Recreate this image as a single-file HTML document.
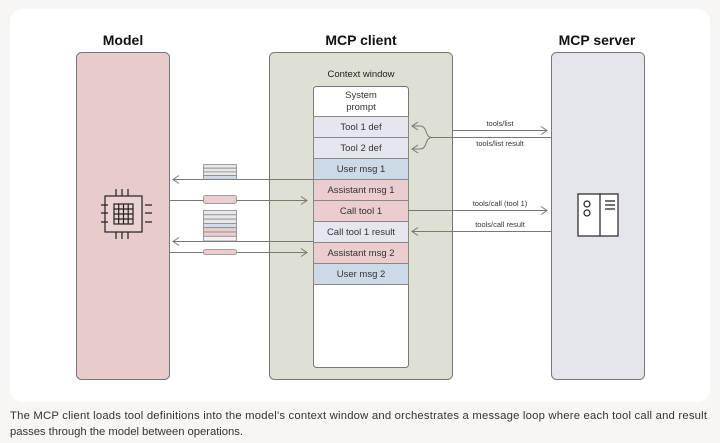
<!DOCTYPE html>
<html><head><meta charset="utf-8"><style>
html,body{margin:0;padding:0;background:#f7f6f2;}
svg{display:block;font-family:"Liberation Sans",sans-serif;}
</style></head><body>
<svg width="720" height="443" viewBox="0 0 720 443" xmlns="http://www.w3.org/2000/svg">
<defs>
<marker id="a" markerWidth="8" markerHeight="10" refX="7" refY="5" orient="auto" markerUnits="userSpaceOnUse">
<path d="M1,1 L7,5 L1,9" fill="none" stroke="#777" stroke-width="1"/></marker>
</defs>
<rect x="10" y="9" width="700" height="393" rx="12" fill="#fff"/>
<g font-weight="bold" font-size="14" fill="#111" text-anchor="middle">
<text x="123" y="45">Model</text><text x="361" y="45">MCP client</text><text x="597" y="45">MCP server</text></g>
<rect x="76.5" y="52.5" width="93" height="327" rx="5" fill="#e8cbcb" stroke="#777"/>
<rect x="269.5" y="52.5" width="183" height="327" rx="5" fill="#dde0d2" stroke="#777"/>
<rect x="551.5" y="52.5" width="93" height="327" rx="5" fill="#e5e5ec" stroke="#777"/>
<text x="361" y="77" font-size="9.5" text-anchor="middle" fill="#222">Context window</text>
<rect x="313.5" y="86.5" width="95" height="281" rx="3" fill="#fff" stroke="#777"/>
<g stroke="#888" stroke-width="1">
<rect x="313.5" y="116.5" width="95" height="21" fill="#e6e6ee"/>
<rect x="313.5" y="137.5" width="95" height="21" fill="#e6e6ee"/>
<rect x="313.5" y="158.5" width="95" height="21" fill="#ccd9e6"/>
<rect x="313.5" y="179.5" width="95" height="21" fill="#ebcdcd"/>
<rect x="313.5" y="200.5" width="95" height="21" fill="#ebcdcd"/>
<rect x="313.5" y="221.5" width="95" height="21" fill="#e6e6ee"/>
<rect x="313.5" y="242.5" width="95" height="21" fill="#ebcdcd"/>
<rect x="313.5" y="263.5" width="95" height="21" fill="#ccd9e6"/>
</g>
<g font-size="9.5" fill="#333" text-anchor="middle">
<text x="361" y="98">System</text><text x="361" y="110">prompt</text>
<text x="361" y="130">Tool 1 def</text><text x="361" y="151">Tool 2 def</text>
<text x="361" y="172">User msg 1</text><text x="361" y="193">Assistant msg 1</text>
<text x="361" y="214">Call tool 1</text><text x="361" y="235">Call tool 1 result</text>
<text x="361" y="256">Assistant msg 2</text><text x="361" y="277">User msg 2</text>
</g>
<g stroke="#777" stroke-width="1" fill="none">
<line x1="313" y1="179.5" x2="173" y2="179.5" marker-end="url(#a)"/>
<line x1="170" y1="200.5" x2="307" y2="200.5" marker-end="url(#a)"/>
<line x1="313" y1="241.5" x2="173" y2="241.5" marker-end="url(#a)"/>
<line x1="170" y1="252.5" x2="307" y2="252.5" marker-end="url(#a)"/>
<line x1="453" y1="130.5" x2="547" y2="130.5" marker-end="url(#a)"/>
<line x1="432" y1="137.5" x2="551" y2="137.5"/>
<path d="M432,137.5 C424,137 428,126 420,126 L412,126" marker-end="url(#a)"/>
<path d="M432,137.5 C424,138 428,149 420,149 L412,149" marker-end="url(#a)"/>
<line x1="408" y1="210.5" x2="547" y2="210.5" marker-end="url(#a)"/>
<line x1="551" y1="231.5" x2="412" y2="231.5" marker-end="url(#a)"/>
</g>
<g font-size="7.5" fill="#333" text-anchor="middle">
<text x="500" y="126">tools/list</text><text x="500" y="146">tools/list result</text>
<text x="500" y="206">tools/call (tool 1)</text><text x="500" y="227">tools/call result</text>
</g>
<g stroke="#888" stroke-width="0.8">
<rect x="203.5" y="164.5" width="33" height="3.7" fill="#e8e8ec"/>
<rect x="203.5" y="168.2" width="33" height="3.7" fill="#e8e8ec"/>
<rect x="203.5" y="171.9" width="33" height="3.7" fill="#e8e8ec"/>
<rect x="203.5" y="175.6" width="33" height="3.7" fill="#d0dcea"/>
<rect x="203.5" y="195.5" width="33" height="8" rx="2" fill="#ebcdd0"/>
<rect x="203.5" y="210.5" width="33" height="4.3" fill="#e8e8ec"/>
<rect x="203.5" y="214.8" width="33" height="4.3" fill="#e8e8ec"/>
<rect x="203.5" y="219.1" width="33" height="4.3" fill="#e8e8ec"/>
<rect x="203.5" y="223.4" width="33" height="4.3" fill="#d0dcea"/>
<rect x="203.5" y="227.7" width="33" height="4.3" fill="#ebcdd0"/>
<rect x="203.5" y="232" width="33" height="4.3" fill="#ebcdd0"/>
<rect x="203.5" y="236.3" width="33" height="4.7" fill="#f2f2f4"/>
<rect x="203.5" y="249.5" width="33" height="5" rx="2" fill="#ebcdd0"/>
</g>
<g stroke="#222" stroke-width="1.2" fill="none">
<rect x="105" y="196" width="37" height="36" fill="#ecd2d2"/>
<rect x="114" y="204" width="19" height="20"/>
<path d="M114,209h19M114,214h19M114,219h19M118.7,204v20M123.5,204v20M128.2,204v20"/>
<path d="M113,189v7M119,189v7M125,189v7M113,232v7M119,232v7M125,232v7M98,205h7M98,213h7M98,222h7M142,205h7M142,213h7M142,222h7" transform="translate(3,0)"/>
</g>
<g stroke="#222" stroke-width="1.2" fill="#fff">
<rect x="578" y="194" width="40" height="42"/>
<line x1="600" y1="194" x2="600" y2="236"/>
<circle cx="587" cy="204" r="3" fill="none"/><circle cx="587" cy="213" r="3" fill="none"/>
<path d="M605,201h10M605,205h10M605,209h10" fill="none"/>
</g>
<g font-size="11.3" fill="#333">
<text x="10" y="419" textLength="697" lengthAdjust="spacing">The MCP client loads tool definitions into the model's context window and orchestrates a message loop where each tool call and result</text>
<text x="10" y="435" textLength="233" lengthAdjust="spacing">passes through the model between operations.</text>
</g>
</svg>
</body></html>
